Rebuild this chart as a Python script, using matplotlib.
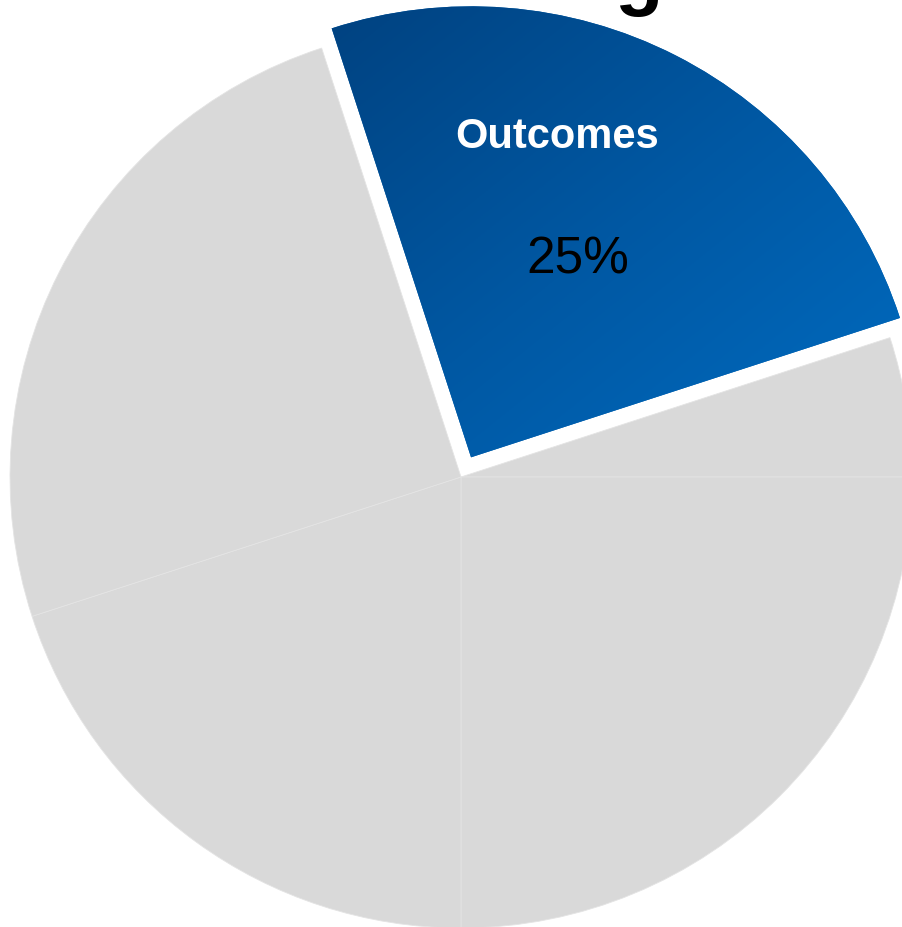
import numpy as np
import matplotlib.pyplot as plt
from matplotlib.colors import LinearSegmentedColormap

plt.rcParams['font.family'] = ['Liberation Sans', 'DejaVu Sans']

# slice data, clockwise from the top-left edge of "Outcomes"
categories = ['Outcomes', '', '', '', '']
shares = [25, 5, 25, 20, 25]
highlight = 'Outcomes'
title_tail = 'g'   # only the descender of the cut-off title shows

W, H = 903, 927
fig = plt.figure(figsize=(W / 100, H / 100), dpi=100)

# pie centre at (461, 477) px from top-left, radius 451 px
cx, cy, R = 461, 477, 451
ax = fig.add_axes([0, 0, 1, 1])

explode = [0.049 if c == highlight else 0 for c in categories]
colors = ['#0060b0' if c == highlight else '#d9d9d9' for c in categories]

wedges, _ = ax.pie(shares, explode=explode, colors=colors, startangle=108,
                   counterclock=False, radius=1,
                   wedgeprops=dict(linewidth=0.6, edgecolor='#e4e4e4'))

# gradient fill on the highlighted slice: dark top-left -> light bottom-right
blue = wedges[categories.index(highlight)]
blue.set_edgecolor('none')
gx, gy = np.meshgrid(np.linspace(0, 1, 300), np.linspace(0, 1, 300))
grad = (gx + gy) / 2
cmap = LinearSegmentedColormap.from_list('blu', ['#003e7a', '#0058a3', '#006fc6'])
im = ax.imshow(grad, cmap=cmap, extent=[-0.4, 1.1, -0.05, 1.15],
               origin='upper', zorder=2, interpolation='bilinear')
im.set_clip_path(blue)

# axes fill the figure, one data unit = R pixels in both directions
ax.set_aspect('auto')
ax.set_xlim(-cx / R, (W - cx) / R)
ax.set_ylim((cy - H) / R, cy / R)
ax.axis('off')

# labels on the highlighted slice (pixel positions converted to data)
def to_data(px, py):
    return (px - cx) / R, (cy - py) / R

lx, ly = to_data(557, 137)
ax.text(lx, ly, highlight, color='white', fontsize=30, fontweight='bold',
        ha='center', va='center', zorder=3)
vx, vy = to_data(578, 260)
ax.text(vx, vy, f'{shares[categories.index(highlight)]}%', color='black',
        fontsize=37, ha='center', va='center', zorder=3)

# cut-off title
fig.text(639 / W, 1 - 0 / H, title_tail, fontsize=57, fontweight='bold',
         ha='center', va='baseline')

fig.savefig('out.png', dpi=100)
